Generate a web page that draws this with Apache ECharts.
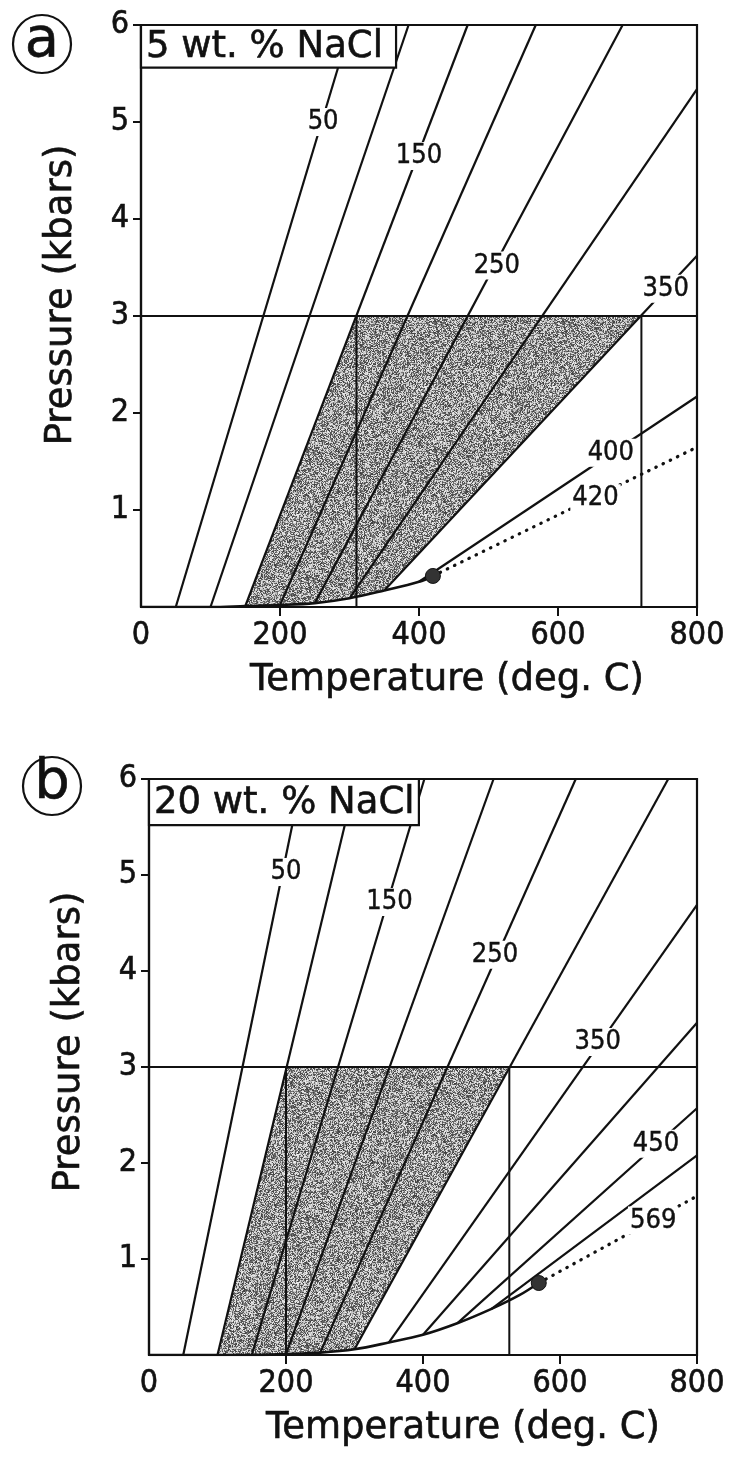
<!DOCTYPE html>
<html>
<head>
<meta charset="utf-8">
<script src="https://cdn.jsdelivr.net/npm/echarts@6/dist/echarts.min.js"></script>
<style>
  html, body { margin: 0; padding: 0; background: #fff; }
  #chart { width: 732px; height: 1460px; }
</style>
</head>
<body>
<div id="chart"></div>
<script>
// Shared axis ticks
const T_TICKS = [0, 200, 400, 600, 800];
const P_TICKS = [1, 2, 3, 4, 5, 6];
const P_LEVEL = 3;

// (a) 5 wt. % NaCl — isochores labelled by homogenization temperature
const A_TH = [50, 100, 150, 200, 250, 300, 350, 400];
const A_ISO_START = [[50, 0], [100, 0], [150, 0.01], [200, 0.02], [250, 0.04], [300, 0.09], [350, 0.17], [400, 0.26]];
const A_ISO_END = [[302, 6], [385, 6], [470, 6], [568, 6], [693, 6], [800, 5.34], [800, 3.62], [800, 2.17]];
const A_BOIL = [[0, 0], [100, 0], [150, 0.01], [200, 0.02], [250, 0.04], [300, 0.09], [350, 0.17], [400, 0.26], [420, 0.32]];
const A_CRIT = [[420, 0.32], [795, 1.63]];
const A_SHADE = [[150, 0.01], [310, 3], [720, 3], [350, 0.17], [300, 0.09], [250, 0.04], [200, 0.02]];
const A_T_RANGE = [310, 720];
const A_LABELS = [[262, 5.0, '50'], [400, 4.65, '150'], [512, 3.52, '250'], [755, 3.28, '350'], [676, 1.59, '400'], [654, 1.12, '420']];

// (b) 20 wt. % NaCl
const B_TH = [50, 100, 150, 200, 250, 300, 350, 400, 450, 500];
const B_ISO_START = [[50, 0], [100, 0], [150, 0], [200, 0.01], [250, 0.025], [300, 0.06], [350, 0.13], [400, 0.21], [450, 0.33], [500, 0.48]];
const B_ISO_END = [[223, 6], [302, 6], [402, 6], [503, 6], [623, 6], [758, 6], [800, 4.69], [800, 3.46], [800, 2.57], [800, 2.08]];
const B_BOIL = [[0, 0], [150, 0], [200, 0.01], [250, 0.025], [300, 0.06], [350, 0.13], [400, 0.21], [450, 0.33], [500, 0.48], [540, 0.62], [569, 0.75]];
const B_CRIT = [[569, 0.75], [796, 1.64]];
const B_SHADE = [[100, 0], [200, 3], [526, 3], [300, 0.06], [250, 0.025], [200, 0.01], [150, 0]];
const B_T_RANGE = [200, 526];
const B_LABELS = [[200, 5.03, '50'], [351, 4.72, '150'], [505, 4.17, '250'], [655, 3.26, '350'], [740, 2.2, '450'], [736, 1.4, '569']];

const TEXT_FONT = 'DejaVu Sans';
const NUM_FONT = 'DejaVu Sans Condensed';
const INK = '#111';

// Stippled grey fill for the 3 kbar trapping field (deterministic grain)
function grainTexture() {
  const n = 128;
  const c = document.createElement('canvas');
  c.width = c.height = n;
  const g = c.getContext('2d');
  const img = g.createImageData(n, n);
  let s = 20231;
  for (let i = 0; i < n * n; i++) {
    s = (s * 16807) % 2147483647;
    const r = s / 2147483647;
    const v = r < 0.5 ? 60 + Math.floor(r * 140) : 175 + Math.floor((r - 0.5) * 130);
    img.data[i * 4] = img.data[i * 4 + 1] = img.data[i * 4 + 2] = v;
    img.data[i * 4 + 3] = 255;
  }
  g.putImageData(img, 0, 0);
  return { image: c, repeat: 'repeat' };
}
const GRAIN = grainTexture();

const heavy = { textBorderColor: INK, textBorderWidth: 0.6 };

const panels = [
  {
    grid: { left: 141, top: 25, width: 556, height: 582 },
    th: A_TH, start: A_ISO_START, end: A_ISO_END, boil: A_BOIL, crit: A_CRIT,
    shade: A_SHADE, range: A_T_RANGE, labels: A_LABELS,
    box: { t: 367, p: 5.56, text: '5 wt. % NaCl' },
    letter: { text: 'a', cx: 42, cy: 44 },
    xNamePad: 56, yNamePad: 42
  },
  {
    grid: { left: 149, top: 779, width: 548, height: 576 },
    th: B_TH, start: B_ISO_START, end: B_ISO_END, boil: B_BOIL, crit: B_CRIT,
    shade: B_SHADE, range: B_T_RANGE, labels: B_LABELS,
    box: { t: 394, p: 5.52, text: '20 wt. % NaCl' },
    letter: { text: 'b', cx: 52, cy: 786 },
    xNamePad: 80, yNamePad: 50
  }
];

const grids = [], xAxes = [], yAxes = [], series = [], graphics = [];

panels.forEach((d, i) => {
  grids.push(Object.assign({ show: true, borderColor: INK, borderWidth: 2.2, backgroundColor: 'transparent' }, d.grid));

  xAxes.push({
    gridIndex: i, type: 'value', min: T_TICKS[0], max: T_TICKS[T_TICKS.length - 1], interval: 200,
    axisLine: { show: true, onZero: false, lineStyle: { color: INK, width: 2.2 } },
    axisTick: { show: true, length: 9, customValues: T_TICKS.slice(1), lineStyle: { color: INK, width: 2 } },
    axisLabel: Object.assign({ fontSize: 32, fontFamily: NUM_FONT, color: INK, margin: 13, showMinLabel: true, showMaxLabel: true }, heavy),
    splitLine: { show: false },
    name: 'Temperature (deg. C)', nameLocation: 'middle', nameGap: 55,
    nameTextStyle: Object.assign({ fontSize: 37, fontFamily: TEXT_FONT, color: INK, padding: [0, 0, 0, d.xNamePad] }, heavy)
  });

  yAxes.push({
    gridIndex: i, type: 'value', min: 0, max: P_TICKS[P_TICKS.length - 1], interval: 1,
    axisLine: { show: true, onZero: false, lineStyle: { color: INK, width: 2.2 } },
    axisTick: { show: true, length: 8, customValues: P_TICKS, lineStyle: { color: INK, width: 2 } },
    axisLabel: Object.assign({ fontSize: 32, fontFamily: NUM_FONT, color: INK, margin: 12, formatter: v => (v === 0 ? '' : String(v)) }, heavy),
    splitLine: { show: false },
    name: 'Pressure (kbars)', nameLocation: 'middle', nameRotate: 90, nameGap: 61,
    nameTextStyle: Object.assign({ fontSize: 37, fontFamily: TEXT_FONT, color: INK, padding: [0, 0, 0, d.yNamePad] }, heavy)
  });

  const ax = { xAxisIndex: i, yAxisIndex: i };

  // Trapping field at 3 kbar between the bounding isochores
  series.push(Object.assign({
    type: 'custom', name: 'field', z: 1, silent: true, clip: true,
    data: d.shade,
    renderItem(params, api) {
      if (params.dataIndex !== 0) return null;
      return { type: 'polygon', shape: { points: d.shade.map(p => api.coord(p)) }, style: { fill: GRAIN } };
    }
  }, ax));

  // Isochores
  d.th.forEach((th, k) => {
    series.push(Object.assign({
      type: 'line', name: 'Th ' + th, z: 3, silent: true, symbol: 'none',
      data: [d.start[k], d.end[k]],
      lineStyle: { color: INK, width: 2.2 }
    }, ax));
  });

  // Liquid–vapour curve up to the critical point
  series.push(Object.assign({
    type: 'line', name: 'L-V curve', z: 3, silent: true, symbol: 'none', smooth: 0.35,
    data: d.boil, lineStyle: { color: INK, width: 2.6 }
  }, ax));

  // Critical isochore (dotted)
  series.push(Object.assign({
    type: 'line', name: 'critical isochore', z: 3, silent: true, symbol: 'none',
    data: d.crit, lineStyle: { color: INK, width: 3.2, type: [0.5, 7.5], cap: 'round' }
  }, ax));

  // 3 kbar level and the temperature bounds at that pressure
  series.push(Object.assign({
    type: 'line', name: 'P level', z: 4, silent: true, symbol: 'none',
    data: [[T_TICKS[0], P_LEVEL], [T_TICKS[T_TICKS.length - 1], P_LEVEL]],
    lineStyle: { color: INK, width: 2.2 }
  }, ax));
  d.range.forEach(t => {
    series.push(Object.assign({
      type: 'line', name: 'T bound', z: 4, silent: true, symbol: 'none',
      data: [[t, 0], [t, P_LEVEL]],
      lineStyle: { color: INK, width: 2 }
    }, ax));
  });

  // Critical point
  series.push(Object.assign({
    type: 'scatter', name: 'critical point', z: 6, silent: true,
    data: [d.crit[0]], symbolSize: 15,
    itemStyle: { color: '#333', borderColor: INK, borderWidth: 1, opacity: 1 }
  }, ax));

  // Isochore labels
  series.push(Object.assign({
    type: 'scatter', name: 'labels', z: 10, silent: true,
    data: d.labels.map(l => ({ value: [l[0], l[1]], name: l[2] })),
    symbolSize: 1, itemStyle: { color: 'rgba(255,255,255,0)', opacity: 1 },
    label: {
      show: true, position: 'inside', formatter: '{b}',
      fontSize: 27, fontFamily: NUM_FONT, color: INK, opacity: 1,
      textBorderColor: INK, textBorderWidth: 0.4,
      backgroundColor: '#fff', padding: [1, 2, 0, 2]
    }
  }, ax));

  // Composition box in the upper-left corner
  series.push(Object.assign({
    type: 'custom', name: 'composition', z: 20, silent: true, clip: false,
    data: [[0, P_TICKS[P_TICKS.length - 1]]],
    renderItem(params, api) {
      const tl = api.coord([0, P_TICKS[P_TICKS.length - 1]]);
      const br = api.coord([d.box.t, d.box.p]);
      return {
        type: 'group', children: [
          { type: 'rect', shape: { x: tl[0], y: tl[1], width: br[0] - tl[0], height: br[1] - tl[1] },
            style: { fill: '#fff', stroke: INK, lineWidth: 2.2 } },
          { type: 'text', x: tl[0] + 5, y: (tl[1] + br[1]) / 2 + 1,
            style: { text: d.box.text, fontSize: 37, fontFamily: TEXT_FONT, fill: INK, stroke: INK, lineWidth: 0.6, align: 'left', verticalAlign: 'middle' } }
        ]
      };
    }
  }, ax));

  // Circled panel letter
  graphics.push({ type: 'circle', shape: { cx: d.letter.cx, cy: d.letter.cy, r: 29 },
    style: { fill: 'none', stroke: INK, lineWidth: 2.2 } });
  graphics.push({ type: 'text', x: d.letter.cx, y: d.letter.cy - 3,
    style: { text: d.letter.text, fontSize: 56, fontFamily: TEXT_FONT, fill: INK, stroke: INK, lineWidth: 0.6, align: 'center', verticalAlign: 'middle' } });
});

const chart = echarts.init(document.getElementById('chart'), null, { renderer: 'canvas' });
chart.setOption({
  animation: false,
  backgroundColor: '#fff',
  grid: grids,
  xAxis: xAxes,
  yAxis: yAxes,
  series: series,
  graphic: graphics
});
</script>
</body>
</html>
